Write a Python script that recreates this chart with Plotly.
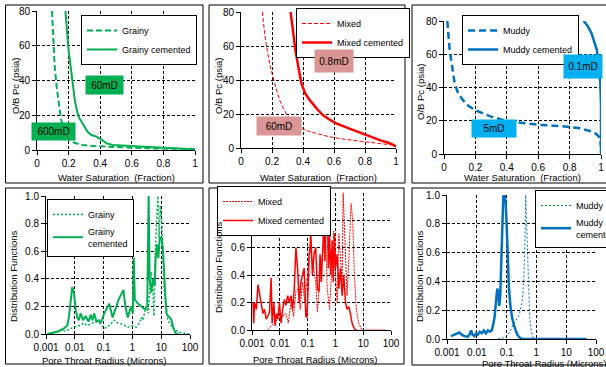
import plotly.graph_objects as go

W, H = 606, 367
GREEN = "#00b050"
RED = "#ff0000"
BLUE = "#0070c0"
FONT = "Liberation Sans, Arial, sans-serif"

# ---- Capillary pressure curves: water saturation (fraction) vs O/B Pc (psia)
grainy_sw = [0.095, 0.100, 0.112, 0.125, 0.133, 0.145, 0.154, 0.170, 0.19, 0.207, 0.24, 0.29, 0.35, 0.44, 0.55, 0.70, 0.85, 1.0]
grainy_pc = [80, 70, 48, 36, 29, 22, 17, 12, 8.5, 5.8, 4.0, 2.9, 2.3, 1.9, 1.4, 1.0, 0.7, 0.5]
grainy_cem_sw = [0.18, 0.19, 0.20, 0.213, 0.225, 0.239, 0.252, 0.264, 0.277, 0.30, 0.32, 0.345, 0.376, 0.41, 0.44, 0.48, 0.55, 0.65, 0.80, 0.90, 1.0]
grainy_cem_pc = [80, 67, 57, 48, 38, 28.8, 23, 19, 17, 13.4, 10.5, 8.6, 7.7, 5.8, 3.8, 2.9, 2.4, 2.0, 1.3, 0.9, 0.5]

mixed_sw = [0.138, 0.153, 0.17, 0.19, 0.218, 0.25, 0.275, 0.298, 0.33, 0.38, 0.43, 0.488, 0.56, 0.64, 0.72, 0.81, 0.90, 0.985, 1.0]
mixed_pc = [80, 67, 57, 47.6, 37.8, 28, 23, 19.2, 15.5, 12.4, 10, 8.4, 6.8, 5.5, 4.4, 3.5, 2.6, 1.6, 1.4]
mixed_cem_sw = [0.32, 0.337, 0.352, 0.37, 0.39, 0.415, 0.445, 0.49, 0.53, 0.575, 0.618, 0.70, 0.76, 0.81, 0.90, 0.96, 0.996, 1.0]
mixed_cem_pc = [80, 67, 57, 47.6, 37.8, 32, 28, 23, 19.2, 16.5, 14.3, 11.4, 9.3, 7.5, 4.5, 2.8, 1.6, 1.0]

muddy_sw = [0.021, 0.028, 0.036, 0.045, 0.053, 0.068, 0.09, 0.12, 0.155, 0.196, 0.25, 0.30, 0.41, 0.50, 0.60, 0.70, 0.77, 0.857, 0.94, 0.97, 0.985, 0.995, 1.0]
muddy_pc = [80, 70, 62.5, 57, 52.5, 42.5, 36.5, 32.5, 29, 26.5, 24.3, 22.5, 19.6, 18.5, 17.6, 17.0, 16.6, 15.6, 13.6, 12, 10.6, 8, 4.6]
muddy_cem_sw = [0.89, 0.915, 0.94, 0.96, 0.974, 0.985, 0.996, 1.0, 1.0]
muddy_cem_pc = [80, 77, 72.5, 67, 62.5, 52.5, 42.5, 30, 0]

# ---- Pore throat radius distributions (microns vs normalised distribution)
grainy_r = [0.0012, 0.0021, 0.0032, 0.0048, 0.0071, 0.010, 0.014, 0.021, 0.027, 0.041, 0.061, 0.080, 0.105, 0.157, 0.235, 0.31, 0.46, 0.69, 1.03, 1.35, 1.77, 2.02, 2.3, 3.0, 3.5, 4.5, 5.2, 5.6, 6.2, 7.2, 7.7, 8.4, 9.3, 10.5, 11.6, 13.0, 17.0, 26.0, 44.0, 100.0]
grainy_d = [0.0, 0.01, 0.03, 0.02, 0.04, 0.05, 0.06, 0.08, 0.06, 0.08, 0.09, 0.07, 0.04, 0.06, 0.10, 0.08, 0.07, 0.05, 0.06, 0.05, 0.08, 0.12, 0.10, 0.20, 0.15, 0.45, 0.30, 0.13, 0.60, 0.90, 1.00, 0.70, 0.93, 0.80, 0.50, 0.30, 0.10, 0.04, 0.01, 0.0]
grainy_cem_r = [0.00108, 0.00200, 0.00278, 0.00416, 0.00545, 0.00623, 0.00713, 0.00815, 0.00933, 0.01067, 0.0122, 0.0138, 0.016, 0.0193, 0.0239, 0.0297, 0.0358, 0.041, 0.0469, 0.0565, 0.0701, 0.080, 0.105, 0.137, 0.157, 0.206, 0.269, 0.334, 0.437, 0.487, 0.571, 0.69, 0.90, 1.03, 1.12, 1.21, 1.55, 2.02, 2.65, 3.28, 3.66, 3.96, 4.54, 5.19, 5.94, 6.43, 7.16, 7.98, 8.89, 10.2, 11.6, 13.3, 15.2, 17.4, 19.9, 22.8, 26.1, 32.3, 40.0]
grainy_cem_d = [0.0, 0.01, 0.02, 0.04, 0.06, 0.12, 0.25, 0.34, 0.30, 0.18, 0.12, 0.10, 0.15, 0.10, 0.13, 0.09, 0.14, 0.10, 0.15, 0.09, 0.10, 0.08, 0.15, 0.20, 0.22, 0.12, 0.20, 0.25, 0.30, 0.32, 0.20, 0.12, 0.20, 0.15, 0.55, 0.25, 0.22, 0.20, 0.18, 0.20, 1.00, 0.40, 0.30, 0.40, 0.35, 0.55, 0.65, 0.55, 0.70, 0.70, 0.60, 0.35, 0.15, 0.13, 0.12, 0.10, 0.05, 0.0, 0.0]

mixed_r = [0.00372, 0.00488, 0.00642, 0.00844, 0.0127, 0.0167, 0.0202, 0.0252, 0.0313, 0.038, 0.046, 0.0542, 0.0656, 0.0794, 0.0989, 0.123, 0.149, 0.196, 0.225, 0.258, 0.295, 0.367, 0.445, 0.510, 0.618, 0.769, 0.881, 1.01, 1.16, 1.33, 1.52, 1.75, 1.90, 2.30, 2.63, 3.02, 3.66, 4.19, 4.81, 5.66, 6.86, 9.02, 61.0]
mixed_d = [0.0, 0.03, 0.05, 0.08, 0.10, 0.12, 0.05, 0.20, 0.10, 0.28, 0.30, 0.15, 0.35, 0.20, 0.40, 0.60, 0.50, 0.35, 0.13, 0.30, 0.45, 0.60, 0.70, 0.30, 0.15, 0.50, 0.72, 0.40, 0.20, 0.70, 0.55, 0.35, 1.00, 0.60, 0.25, 0.50, 0.92, 0.80, 0.40, 0.15, 0.05, 0.0, 0.0]
mixed_cem_r = [0.0011, 0.00115, 0.00124, 0.00143, 0.00164, 0.00188, 0.00215, 0.00247, 0.00283, 0.00324, 0.00372, 0.00426, 0.00488, 0.0053, 0.00608, 0.00678, 0.00756, 0.00844, 0.00968, 0.0111, 0.0127, 0.0146, 0.0167, 0.0192, 0.022, 0.0252, 0.0289, 0.0331, 0.038, 0.0435, 0.0499, 0.0573, 0.0656, 0.0752, 0.0863, 0.0936, 0.1045, 0.1134, 0.123, 0.13, 0.149, 0.171, 0.196, 0.225, 0.258, 0.280, 0.312, 0.348, 0.388, 0.422, 0.457, 0.510, 0.553, 0.618, 0.671, 0.769, 0.835, 0.931, 1.01, 1.16, 1.33, 1.52, 1.75, 2.00, 2.30, 2.63, 3.02, 3.46, 3.97, 4.55, 5.21, 6.0]
mixed_cem_d = [0.2, 0.05, 0.2, 0.15, 0.33, 0.25, 0.18, 0.12, 0.15, 0.08, 0.10, 0.13, 0.38, 0.05, 0.20, 0.03, 0.12, 0.08, 0.20, 0.05, 0.15, 0.22, 0.18, 0.25, 0.20, 0.25, 0.15, 0.30, 0.60, 0.45, 0.20, 0.35, 0.40, 0.45, 0.10, 0.09, 0.30, 0.55, 0.60, 0.72, 0.40, 0.55, 0.60, 0.30, 0.28, 0.55, 0.35, 0.55, 0.80, 0.50, 0.95, 1.00, 0.45, 0.70, 0.40, 0.65, 0.35, 0.70, 0.45, 0.55, 0.30, 0.45, 0.25, 0.40, 0.20, 0.15, 0.17, 0.12, 0.05, 0.02, 0.0, 0.0]

muddy_r = [0.051, 0.0857, 0.111, 0.136, 0.163, 0.196, 0.241, 0.274, 0.312, 0.337, 0.374, 0.404, 0.437, 0.472, 0.524, 0.596, 0.678, 0.772, 0.879]
muddy_d = [0.0, 0.01, 0.03, 0.06, 0.10, 0.12, 0.15, 0.18, 0.25, 0.27, 0.40, 0.60, 1.0, 0.80, 0.40, 0.15, 0.05, 0.01, 0.0]
muddy_cem_r = [0.00136, 0.00177, 0.00217, 0.0026, 0.00312, 0.00384, 0.00497, 0.00566, 0.00644, 0.00714, 0.00834, 0.0095, 0.0108, 0.0126, 0.0148, 0.0172, 0.0201, 0.0235, 0.0274, 0.032, 0.0355, 0.0394, 0.0437, 0.0485, 0.0524, 0.0566, 0.0612, 0.0662, 0.0715, 0.0773, 0.0857, 0.0926, 0.1, 0.108, 0.12, 0.136, 0.155, 0.186, 0.229, 0.274, 0.329, 48.4]
muddy_cem_d = [0.02, 0.03, 0.04, 0.045, 0.03, 0.02, 0.015, 0.03, 0.06, 0.03, 0.02, 0.04, 0.03, 0.05, 0.04, 0.06, 0.04, 0.06, 0.05, 0.06, 0.10, 0.15, 0.25, 0.35, 0.33, 0.23, 0.30, 0.55, 0.85, 0.99, 1.0, 0.95, 0.80, 0.55, 0.35, 0.22, 0.14, 0.08, 0.03, 0.01, 0.0, 0.0]

# tick labels
sw_ticks = [0, 0.2, 0.4, 0.6, 0.8, 1]
sw_text = ["0", "0.2", "0.4", "0.6", "0.8", "1"]
pc_ticks = [0, 20, 40, 60, 80]
r_ticks = [0.001, 0.01, 0.1, 1, 10, 100]
r_text = ["0.001", "0.01", "0.1", "1", "10", "100"]
d_ticks = [0.0, 0.2, 0.4, 0.6, 0.8, 1.0]
d_text = ["0.0", "0.2", "0.4", "0.6", "0.8", "1.0"]

# permeability labels: (text, Sw, Pc, box colour, box w, box h)
perm_labels = [
    [("60mD", 0.43, 37.4, GREEN, 37, 18), ("600mD", 0.104, 10.6, GREEN, 43, 17)],
    [("0.8mD", 0.60, 51.0, "#d99694", 38, 22), ("60mD", 0.245, 12.9, "#d99694", 44, 18)],
    [("0.1mD", 0.885, 52.4, "#00b0f0", 38, 23), ("5mD", 0.318, 15.6, "#00b0f0", 44, 17)],
]


def px(x):
    return x / W


def py(y):
    return 1 - y / H


# plot-area pixel rectangles (left, right, top, bottom)
areas = [
    (37, 195, 11, 150), (241, 396, 12, 148), (444, 601, 21, 154),
    (46, 190, 196, 334), (252, 391, 192.5, 330), (447, 596, 195, 339),
]
# outer panel frames
frames = [
    (5.5, 203, 5, 183), (209, 405, 5, 183), (412, 612, 5, 183),
    (5.5, 203, 188, 364), (209, 404, 188, 364), (412, 612, 188, 365),
]
# legend anchors (left, top)
legend_pos = [(81, 15), (296, 8), (462, 15), (47, 199), (217, 186), (535, 190)]

fig = go.Figure()

top_series = [
    ((grainy_sw, grainy_pc, "Grainy", GREEN, 2, "6px,3px"), (grainy_cem_sw, grainy_cem_pc, "Grainy cemented", GREEN, 2, None)),
    ((mixed_sw, mixed_pc, "Mixed", RED, 1, "4px,2px"), (mixed_cem_sw, mixed_cem_pc, "Mixed cemented", RED, 2.5, None)),
    ((muddy_sw, muddy_pc, "Muddy", BLUE, 2.5, "7px,4px"), (muddy_cem_sw, muddy_cem_pc, "Muddy cemented", BLUE, 2.5, None)),
]
bottom_series = [
    ((grainy_r, grainy_d, "Grainy", GREEN, 1.5, "2px,2px"), (grainy_cem_r, grainy_cem_d, "Grainy<br>cemented", GREEN, 2, None)),
    ((mixed_r, mixed_d, "Mixed", RED, 1, "2px,1px"), (mixed_cem_r, mixed_cem_d, "Mixed cemented", RED, 1.5, None)),
    ((muddy_r, muddy_d, "Muddy", BLUE, 1, "2px,2px"), (muddy_cem_r, muddy_cem_d, "Muddy<br>cemented", BLUE, 2.5, None)),
]

all_series = top_series + bottom_series
for i, pair in enumerate(all_series):
    ax = "" if i == 0 else str(i + 1)
    lg = "legend" if i == 0 else "legend" + str(i + 1)
    for xs, ys, name, col, lw, dash in pair:
        line = dict(color=col, width=lw)
        if dash:
            line["dash"] = dash
        fig.add_trace(go.Scatter(x=xs, y=ys, mode="lines", name=name, line=line,
                                 xaxis="x" + ax, yaxis="y" + ax, legend=lg))

common = dict(showline=True, linecolor="black", linewidth=1, ticks="outside", ticklen=4,
              tickcolor="black", showgrid=True, gridcolor="black", griddash="3px,2px",
              gridwidth=1, zeroline=False, tickfont=dict(size=10, color="black", family=FONT))

layout = dict(width=W, height=H, margin=dict(l=0, r=0, t=0, b=0, autoexpand=False),
              paper_bgcolor="white", plot_bgcolor="white", font=dict(family=FONT, color="black"))

for i, (l, r, t, b) in enumerate(areas):
    ax = "" if i == 0 else str(i + 1)
    xa = dict(common, domain=[px(l), px(r)], anchor="y" + ax)
    ya = dict(common, domain=[py(b), py(t)], anchor="x" + ax)
    if i < 3:
        xa.update(range=[0, 1], tickvals=sw_ticks, ticktext=sw_text)
        ya.update(range=[0, 80], tickvals=pc_ticks)
    else:
        xa.update(type="log", range=[-3, 2], tickvals=r_ticks, ticktext=r_text)
        ya.update(range=[0, 1], tickvals=d_ticks, ticktext=d_text)
    layout["xaxis" + ax] = xa
    layout["yaxis" + ax] = ya
    lx, ly = legend_pos[i]
    layout["legend" if i == 0 else "legend" + str(i + 1)] = dict(
        x=px(lx), y=py(ly), xanchor="left", yanchor="top", bgcolor="white",
        bordercolor="black", borderwidth=1, font=dict(size=9, family=FONT, color="black"),
        itemwidth=30, tracegroupgap=0)

fig.update_layout(**layout)

# panel frames
for l, r, t, b in frames:
    fig.add_shape(type="rect", xref="paper", yref="paper", x0=px(l), x1=px(r), y0=py(b), y1=py(t),
                  line=dict(color="black", width=1))

# permeability boxes
for i, labels in enumerate(perm_labels):
    ax = "" if i == 0 else str(i + 1)
    for text, xv, yv, col, bw, bh in labels:
        fig.add_annotation(x=xv, y=yv, xref="x" + ax, yref="y" + ax, text=text, showarrow=False,
                           xanchor="center", yanchor="middle",
                           bgcolor=col, width=bw, height=bh, borderpad=0,
                           font=dict(size=10, color="black", family=FONT))

# axis titles
xtitles = [("Water Saturation  (Fraction)", 116, 177.5), ("Water Saturation  (Fraction)", 318, 177.5),
           ("Water Saturation  (Fraction)", 522, 177.5), ("Pore Throat Radius (Microns)", 104, 360),
           ("Pore Throat Radius (Microns)", 315, 359), ("Pore Throat Radius (Microns)", 544, 363.5)]
ytitles = [("O/B Pc (psia)", 15, 86), ("O/B Pc (psia)", 218, 86), ("O/B Pc (psia)", 420, 91),
           ("Distribution Functions", 13, 276), ("Distribution Functions", 218, 267),
           ("Distribution Functions", 419, 276)]
for text, x, y in xtitles:
    fig.add_annotation(x=px(x), y=py(y), xref="paper", yref="paper", text=text, showarrow=False,
                       xanchor="center", yanchor="middle",
                       font=dict(size=9.5, family=FONT, color="black"))
for text, x, y in ytitles:
    fig.add_annotation(x=px(x), y=py(y), xref="paper", yref="paper", text=text, showarrow=False,
                       xanchor="center", yanchor="middle",
                       textangle=-90, font=dict(size=9.5, family=FONT, color="black"))

fig.write_html("out.html")
